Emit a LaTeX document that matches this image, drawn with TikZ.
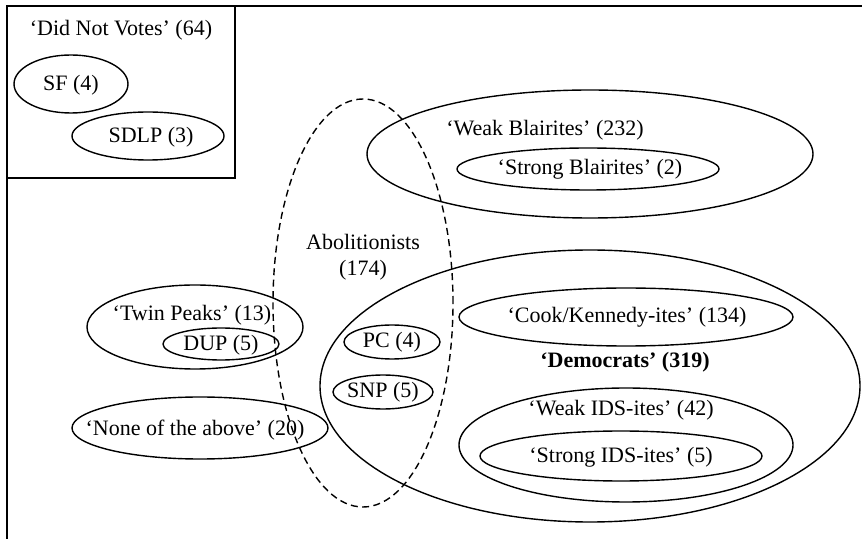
\documentclass[tikz,border=0pt]{standalone}
\usepackage{fontspec}
\setmainfont{Liberation Serif}
\usepackage{tikz}
\usetikzlibrary{shapes.geometric}

\begin{document}
\begin{tikzpicture}[x=0.5pt,y=-0.5pt,line width=0.7pt,
  set/.style={ellipse,draw,inner sep=0pt},
  dashed set/.style={set,dash pattern=on 3.5pt off 2.2pt},
  lbl/.style={inner sep=0pt,align=center},
  every node/.style={font=\fontsize{11}{13}\selectfont}]

  \useasboundingbox (0,0) rectangle (862,539);

  \draw (862,6) -- (7,6) -- (7,539);
  \node[draw,inner sep=0pt,minimum width=114pt,minimum height=86pt] (dnv) at (121,92) {};
  \node[lbl] (dnvl) at (121,30) {‘Did Not Votes’ (64)};
  \node[set,minimum width=57pt,minimum height=29pt] (sf) at (71,84) {};
  \node[lbl] (sfl) at (71,85) {SF (4)};
  \node[set,minimum width=76pt,minimum height=24pt] (sdlp) at (148,136) {};
  \node[lbl] (sdlpl) at (151,137) {SDLP (3)};

  \node[set,minimum width=223pt,minimum height=64pt] (wb) at (590,154) {};
  \node[lbl] (wbl) at (545,130) {‘Weak Blairites’ (232)};
  \node[set,minimum width=131pt,minimum height=21pt] (sb) at (588,169) {};
  \node[lbl] (sbl) at (590,169) {‘Strong Blairites’ (2)};

  \node[dashed set,minimum width=90pt,minimum height=204pt] (ab) at (363,303) {};
  \node[lbl] (abl) at (363,257) {Abolitionists\\(174)};

  \node[set,minimum width=108pt,minimum height=42pt] (tp) at (195,327) {};
  \node[lbl] (tpl) at (192,315) {‘Twin Peaks’ (13)};
  \node[set,minimum width=58pt,minimum height=16pt] (dup) at (221,344) {};
  \node[lbl] (dupl) at (221,345) {DUP (5)};
  \node[set,minimum width=128pt,minimum height=31pt] (nota) at (200,428) {};
  \node[lbl] (notal) at (195,430) {‘None of the above’ (20)};

  \node[set,minimum width=48pt,minimum height=17pt] (pc) at (392,342) {};
  \node[lbl] (pcl) at (392,342) {PC (4)};
  \node[set,minimum width=50pt,minimum height=17pt] (snp) at (383,392) {};
  \node[lbl] (snpl) at (383,392) {SNP (5)};

  \node[set,minimum width=270pt,minimum height=136pt] (dem) at (590,386) {};
  \node[lbl,font=\fontsize{11}{13}\selectfont\bfseries] (deml) at (625,362) {‘Democrats’ (319)};
  \node[set,minimum width=167pt,minimum height=29pt] (ck) at (626,317) {};
  \node[lbl] (ckl) at (627,317) {‘Cook/Kennedy-ites’ (134)};
  \node[set,minimum width=167pt,minimum height=57pt] (wi) at (626,445) {};
  \node[lbl] (wil) at (621,410) {‘Weak IDS-ites’ (42)};
  \node[set,minimum width=141pt,minimum height=25pt] (si) at (621,456) {};
  \node[lbl] (sil) at (621,457) {‘Strong IDS-ites’ (5)};

\end{tikzpicture}
\end{document}
